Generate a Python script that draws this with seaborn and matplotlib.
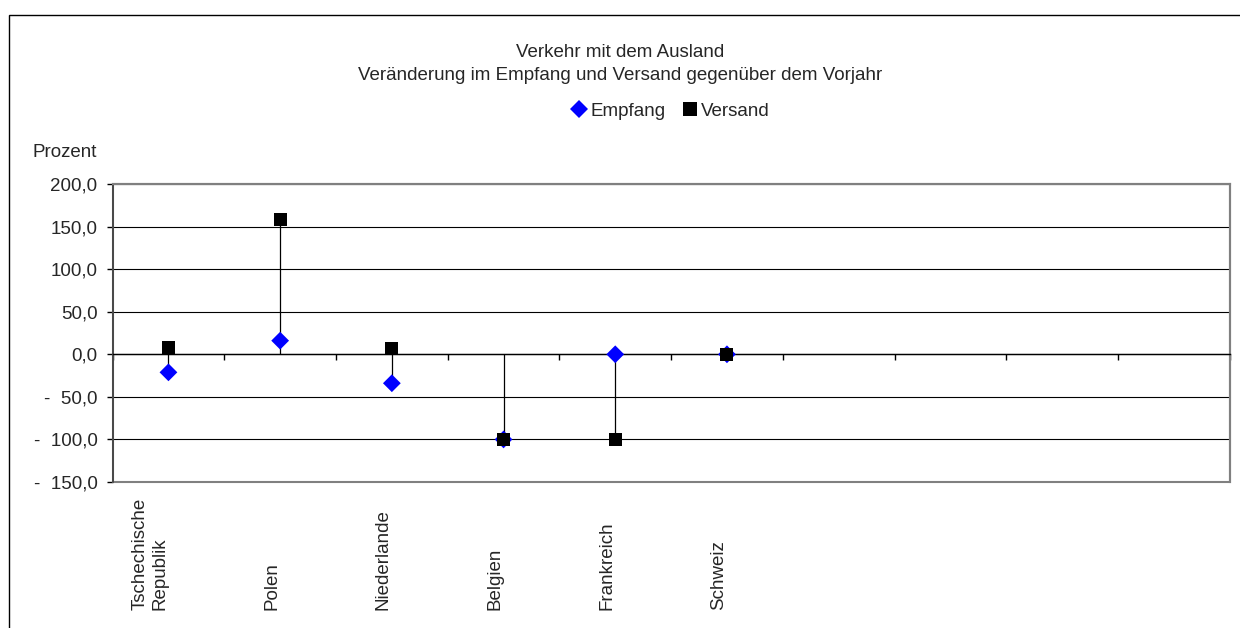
"""Verkehr mit dem Ausland - Veränderung im Empfang und Versand (Excel-style drop-line chart)."""

import matplotlib

matplotlib.use("Agg")
import matplotlib.pyplot as plt
import pandas as pd
import seaborn as sns
from matplotlib.lines import Line2D
from matplotlib.patches import Rectangle
from matplotlib.transforms import blended_transform_factory

# --- data ---
LAENDER = ["Tschechische\nRepublik", "Polen", "Niederlande", "Belgien", "Frankreich", "Schweiz"]
EMPFANG = [-21.2, 16.0, -34.0, -100.0, 0.0, 0.0]
VERSAND = [8.2, 158.0, 7.1, -100.0, -100.0, 0.0]
N_SLOTS = 10  # category axis has room for 10 entries, only 6 filled
Y_TICKS = [-150, -100, -50, 0, 50, 100, 150, 200]
Y_TICK_LABELS = ["-  150,0", "-  100,0", "-  50,0", "0,0", "50,0", "100,0", "150,0", "200,0"]

TITLE_1 = "Verkehr mit dem Ausland"
TITLE_2 = "Veränderung im Empfang und Versand gegenüber dem Vorjahr"

# --- style ---
_BLUE = "#0000FF"
_BORDER = "#808080"
_FS = 13.5
W, H = 1240, 628

sns.set_style("white")
plt.rcParams["font.family"] = ["Liberation Sans", "DejaVu Sans"]
plt.rcParams["font.size"] = _FS

df = pd.DataFrame(
    {
        "pos": [i + 0.5 for i in range(len(LAENDER))] * 2,
        "wert": EMPFANG + VERSAND,
        "serie": ["Empfang"] * len(LAENDER) + ["Versand"] * len(LAENDER),
    }
)

fig = plt.figure(figsize=(W / 100, H / 100), dpi=100)
fig.patch.set_facecolor("white")

# outer chart border (only left/top edges are inside the picture)
fig.add_artist(
    Rectangle((9 / W, -0.2), 1.2, 1.2 - 15 / H, transform=fig.transFigure,
              fill=False, edgecolor="black", linewidth=1.0)
)

ax = fig.add_axes([112.6 / W, 1 - 482 / H, 1117 / W, (482 - 184) / H])

# drop lines from the points down/up to the category axis
lo = [min(0, e, v) for e, v in zip(EMPFANG, VERSAND)]
hi = [max(0, e, v) for e, v in zip(EMPFANG, VERSAND)]
ax.vlines([i + 0.5 for i in range(len(LAENDER))], lo, hi, color="black", linewidth=0.9, zorder=3)

sns.scatterplot(
    data=df,
    x="pos",
    y="wert",
    hue="serie",
    style="serie",
    markers={"Empfang": "D", "Versand": "s"},
    palette={"Empfang": _BLUE, "Versand": "black"},
    size="serie",
    sizes={"Empfang": 82, "Versand": 88},
    edgecolor="none",
    linewidth=0,
    legend=False,
    ax=ax,
    zorder=4,
)

ax.set_xlim(0, N_SLOTS)
ax.set_ylim(Y_TICKS[0], Y_TICKS[-1])
ax.set_xlabel("")
ax.set_ylabel("")

# y axis
ax.set_yticks(Y_TICKS)
ax.set_yticklabels(Y_TICK_LABELS, fontsize=_FS)
ax.tick_params(axis="y", direction="out", length=4.3, width=1, color="black", pad=6.5, left=True)
ax.yaxis.grid(True, color="black", linewidth=0.8)
ax.set_axisbelow(True)

# category axis crosses at 0
ax.spines["bottom"].set_position(("data", 0))
ax.spines["bottom"].set_color("black")
ax.spines["bottom"].set_linewidth(1.0)
ax.set_xticks(range(N_SLOTS + 1))
ax.set_xticklabels([])
ax.tick_params(axis="x", direction="out", length=4.3, width=1, color="black", bottom=True)

for side in ("top", "right"):
    ax.spines[side].set_color(_BORDER)
    ax.spines[side].set_linewidth(1.5)
ax.spines["left"].set_color("#404040")
ax.spines["left"].set_linewidth(1.2)
ax.add_patch(
    Rectangle((0, 0), 1, 1, transform=ax.transAxes, fill=False,
              edgecolor=_BORDER, linewidth=1.5, zorder=2.4, clip_on=False)
)

# rotated category labels, bottom-aligned like in Excel
trans = blended_transform_factory(ax.transData, fig.transFigure)
for i, name in enumerate(LAENDER):
    ax.text(i + 0.5, 1 - 610 / H, name, transform=trans, rotation=90,
            ha="right", va="bottom", multialignment="left", fontsize=_FS)

# titles, axis caption
fig.text(0.5, 1 - 57 / H, TITLE_1, ha="center", va="baseline", fontsize=_FS)
fig.text(0.5, 1 - 80 / H, TITLE_2, ha="center", va="baseline", fontsize=_FS)
fig.text(33 / W, 1 - 157 / H, "Prozent", ha="left", va="baseline", fontsize=_FS)

# legend
handles = [
    Line2D([], [], linestyle="none", marker="D", markersize=9, color=_BLUE, markeredgewidth=0),
    Line2D([], [], linestyle="none", marker="s", markersize=9.4, color="black", markeredgewidth=0),
]
fig.legend(
    handles,
    ["Empfang", "Versand"],
    loc="center",
    bbox_to_anchor=(671 / W, 1 - 111 / H),
    ncol=2,
    frameon=False,
    fontsize=_FS,
    handlelength=0.8,
    handletextpad=0.2,
    columnspacing=0.9,
    borderpad=0,
)

fig.savefig("out.png", dpi=100, facecolor="white")
